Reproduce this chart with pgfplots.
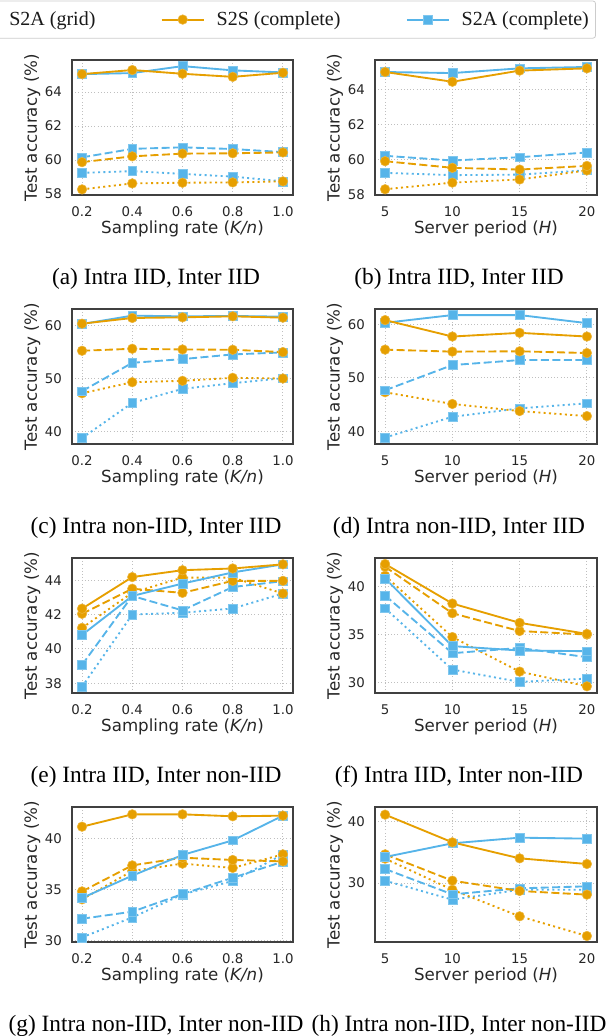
\documentclass[border=0pt]{standalone}
\usepackage{fontspec}
\setmainfont{Liberation Serif}
\newfontfamily\djv{DejaVu Sans}
\usepackage{pgfplots}
\usepackage{pgfplotstable}
\pgfplotsset{compat=1.18}

\definecolor{orangeC}{HTML}{E69F00}
\definecolor{blueC}{HTML}{56B4E9}

% columns: s = S2S, a = S2A; c = complete (solid), g = grid (dashed), o = dotted
\pgfplotstableread{
x   sc    ac    sg    ag    so    ao
0.2 65.05 65.05 59.88 60.16 58.28 59.25
0.4 65.29 65.11 60.22 60.66 58.63 59.35
0.6 65.07 65.52 60.38 60.75 58.67 59.19
0.8 64.89 65.27 60.40 60.65 58.69 59.03
1.0 65.13 65.15 60.45 60.47 58.75 58.75
}\tA
\pgfplotstableread{
x  sc    ac    sg    ag    so    ao
5  65.02 65.02 59.90 60.21 58.29 59.23
10 64.46 64.96 59.52 59.94 58.67 59.10
15 65.10 65.23 59.42 60.13 58.85 59.13
20 65.23 65.31 59.63 60.40 59.37 59.38
}\tB
\pgfplotstableread{
x   sc    ac    sg    ag    so    ao
0.2 60.38 60.32 55.25 47.60 47.20 38.73
0.4 61.46 61.90 55.63 52.97 49.30 45.38
0.6 61.58 61.77 55.50 53.67 49.56 48.04
0.8 61.77 61.84 55.44 54.56 50.13 49.11
1.0 61.52 61.71 55.00 54.94 50.00 50.06
}\tC
\pgfplotstableread{
x  sc    ac    sg    ag    so    ao
5  60.82 60.31 55.28 47.67 47.30 38.80
10 57.74 61.76 54.91 52.39 45.10 42.70
15 58.43 61.76 54.97 53.33 43.77 44.28
20 57.74 60.25 54.65 53.33 42.83 45.22
}\tD
\pgfplotstableread{
x   sc    ac    sg    ag    so    ao
0.2 42.34 40.81 42.04 39.07 41.22 37.80
0.4 44.18 43.08 43.50 43.08 43.27 42.00
0.6 44.58 43.80 43.26 42.24 44.15 42.10
0.8 44.68 44.45 43.96 43.60 44.15 42.35
1.0 44.92 44.92 43.96 43.94 43.22 43.22
}\tE
\pgfplotstableread{
x  sc    ac    sg    ag    so    ao
5  42.39 40.88 42.10 39.09 41.16 37.75
10 38.25 33.79 37.23 33.05 34.74 31.33
15 36.23 33.33 35.37 33.60 31.12 30.04
20 35.07 33.26 35.00 32.63 29.58 30.39
}\tF
\pgfplotstableread{
x   sc    ac    sg    ag    so    ao
0.2 41.14 34.15 34.80 32.12 34.02 30.29
0.4 42.35 36.34 37.35 32.81 36.80 32.25
0.6 42.35 38.37 38.10 34.54 37.52 34.50
0.8 42.16 39.80 37.88 36.14 37.10 35.82
1.0 42.22 42.22 37.74 37.71 38.43 38.43
}\tG
\pgfplotstableread{
x  sc    ac    sg    ag    so    ao
5  41.14 34.24 34.67 32.28 33.97 30.38
10 36.63 36.47 30.38 28.15 28.90 27.28
15 34.02 37.39 28.70 29.13 24.57 28.90
20 33.10 37.23 28.10 29.46 21.36 28.90
}\tH

\pgfplotsset{
  s2s/.style={color=orangeC, line width=1.4pt, mark=*, mark size=3.6pt,
    mark options={solid, fill=orangeC, draw=orangeC!75!white, line width=0.4pt}},
  s2a/.style={color=blueC, line width=1.4pt, mark=square*, mark size=3.3pt,
    mark options={solid, fill=blueC, draw=blueC!75!white, line width=0.4pt}},
  dashp/.style={dash pattern=on 6pt off 2.6pt},
  dotp/.style={dash pattern=on 1.5pt off 2.5pt},
  sub/.style={
    scale only axis, width=165.75pt, height=101.25pt, anchor=south west,
    axis line style={black!75, line width=1pt},
    grid=major, grid style={dotted, black!25, line width=0.7pt},
    major tick length=0pt,
    tick label style={font=\fontsize{10}{12}\djv, text=black!85},
    /pgf/number format/assume math mode=true,
    label style={font=\fontsize{12.5}{15}\djv, text=black!85},
    ylabel={Test accuracy (\%)},
    ylabel style={at={(axis description cs:-0.18,0.5)}, anchor=center},
    xlabel style={at={(axis description cs:0.5,-0.25)}, anchor=center},
    xticklabel style={yshift=-5pt},
    yticklabel style={xshift=-4pt},
  },
  sr/.style={sub, xmin=0.16, xmax=1.04, xtick={0.2,0.4,0.6,0.8,1.0},
    xticklabels={0.2,0.4,0.6,0.8,1.0}, xlabel={Sampling rate ({\itshape K/n})}},
  sp/.style={sub, width=166.5pt, xmin=4.25, xmax=20.75, xtick={5,10,15,20},
    xticklabels={5,10,15,20}, xlabel={Server period ({\itshape H})}},
}

\newcommand\six[1]{%
  \addplot[s2a, dotp, forget plot] table[x=x, y=ao] {#1};
  \addplot[s2s, dotp, forget plot] table[x=x, y=so] {#1};
  \addplot[s2a, dashp, forget plot] table[x=x, y=ag] {#1};
  \addplot[s2s, dashp, forget plot] table[x=x, y=sg] {#1};
  \addplot[s2a, forget plot] table[x=x, y=ac] {#1};
  \addplot[s2s, forget plot] table[x=x, y=sc] {#1};
}

\begin{document}
\begin{tikzpicture}
\useasboundingbox (0,0) rectangle (461.25pt,777pt);

% row 1
\begin{axis}[sr, at={(54pt,630.75pt)}, ymin=57.95, ymax=65.88, ytick={58,60,62,64},
  legend image code/.code={\draw[mark repeat=2, mark phase=2]
    plot coordinates {(0pt,0pt) (15.75pt,0pt) (31.5pt,0pt)};},
  legend columns=3,
  legend style={at={(2.371,1.44)}, anchor=north east, draw=black!20,
    rounded corners=2pt, line width=0.6pt, text=black!90, inner ysep=6pt,
    font=\fontsize{15}{18}\selectfont\rmfamily,
    /tikz/every odd column/.append style={column sep=7pt},
    /tikz/every even column/.append style={column sep=47pt}}]
\six{\tA}
\addlegendimage{s2a, dashp}
\addlegendentry{S2A (grid)}
\addlegendimage{s2s}
\addlegendentry{S2S (complete)}
\addlegendimage{s2a}
\addlegendentry{S2A (complete)}
\end{axis}
\begin{axis}[sp, at={(281.25pt,630.75pt)}, ymin=57.96, ymax=65.71, ytick={58,60,62,64}]
\six{\tB}
\end{axis}

% row 2
\begin{axis}[sr, at={(54pt,444pt)}, ymin=37.6, ymax=63.16, ytick={40,50,60}]
\six{\tC}
\end{axis}
\begin{axis}[sp, at={(281.25pt,444pt)}, ymin=37.6, ymax=62.9, ytick={40,50,60}]
\six{\tD}
\end{axis}

% row 3
\begin{axis}[sr, at={(54pt,257.25pt)}, ymin=37.43, ymax=45.29, ytick={38,40,42,44}]
\six{\tE}
\end{axis}
\begin{axis}[sp, at={(281.25pt,257.25pt)}, ymin=28.88, ymax=43.02, ytick={30,35,40}]
\six{\tF}
\end{axis}

% row 4
\begin{axis}[sr, at={(54pt,70.5pt)}, ymin=29.84, ymax=43.07, ytick={30,35,40}]
\six{\tG}
\end{axis}
\begin{axis}[sp, at={(281.25pt,70.5pt)}, ymin=20.38, ymax=42.39, ytick={30,40}]
\six{\tH}
\end{axis}

% captions
\begin{scope}[every node/.style={anchor=base, font=\fontsize{17.5}{20}\selectfont}]
\node at (117pt,563.25pt) {(a) Intra IID, Inter IID};
\node at (344.25pt,563.25pt) {(b) Intra IID, Inter IID};
\node at (117pt,376.5pt) {(c) Intra non-IID, Inter IID};
\node at (344.25pt,376.5pt) {(d) Intra non-IID, Inter IID};
\node at (117pt,189.75pt) {(e) Intra IID, Inter non-IID};
\node at (344.25pt,189.75pt) {(f) Intra IID, Inter non-IID};
\node at (117pt,3pt) {(g) Intra non-IID, Inter non-IID};
\node at (344.25pt,3pt) {(h) Intra non-IID, Inter non-IID};
\end{scope}
\end{tikzpicture}
\end{document}
